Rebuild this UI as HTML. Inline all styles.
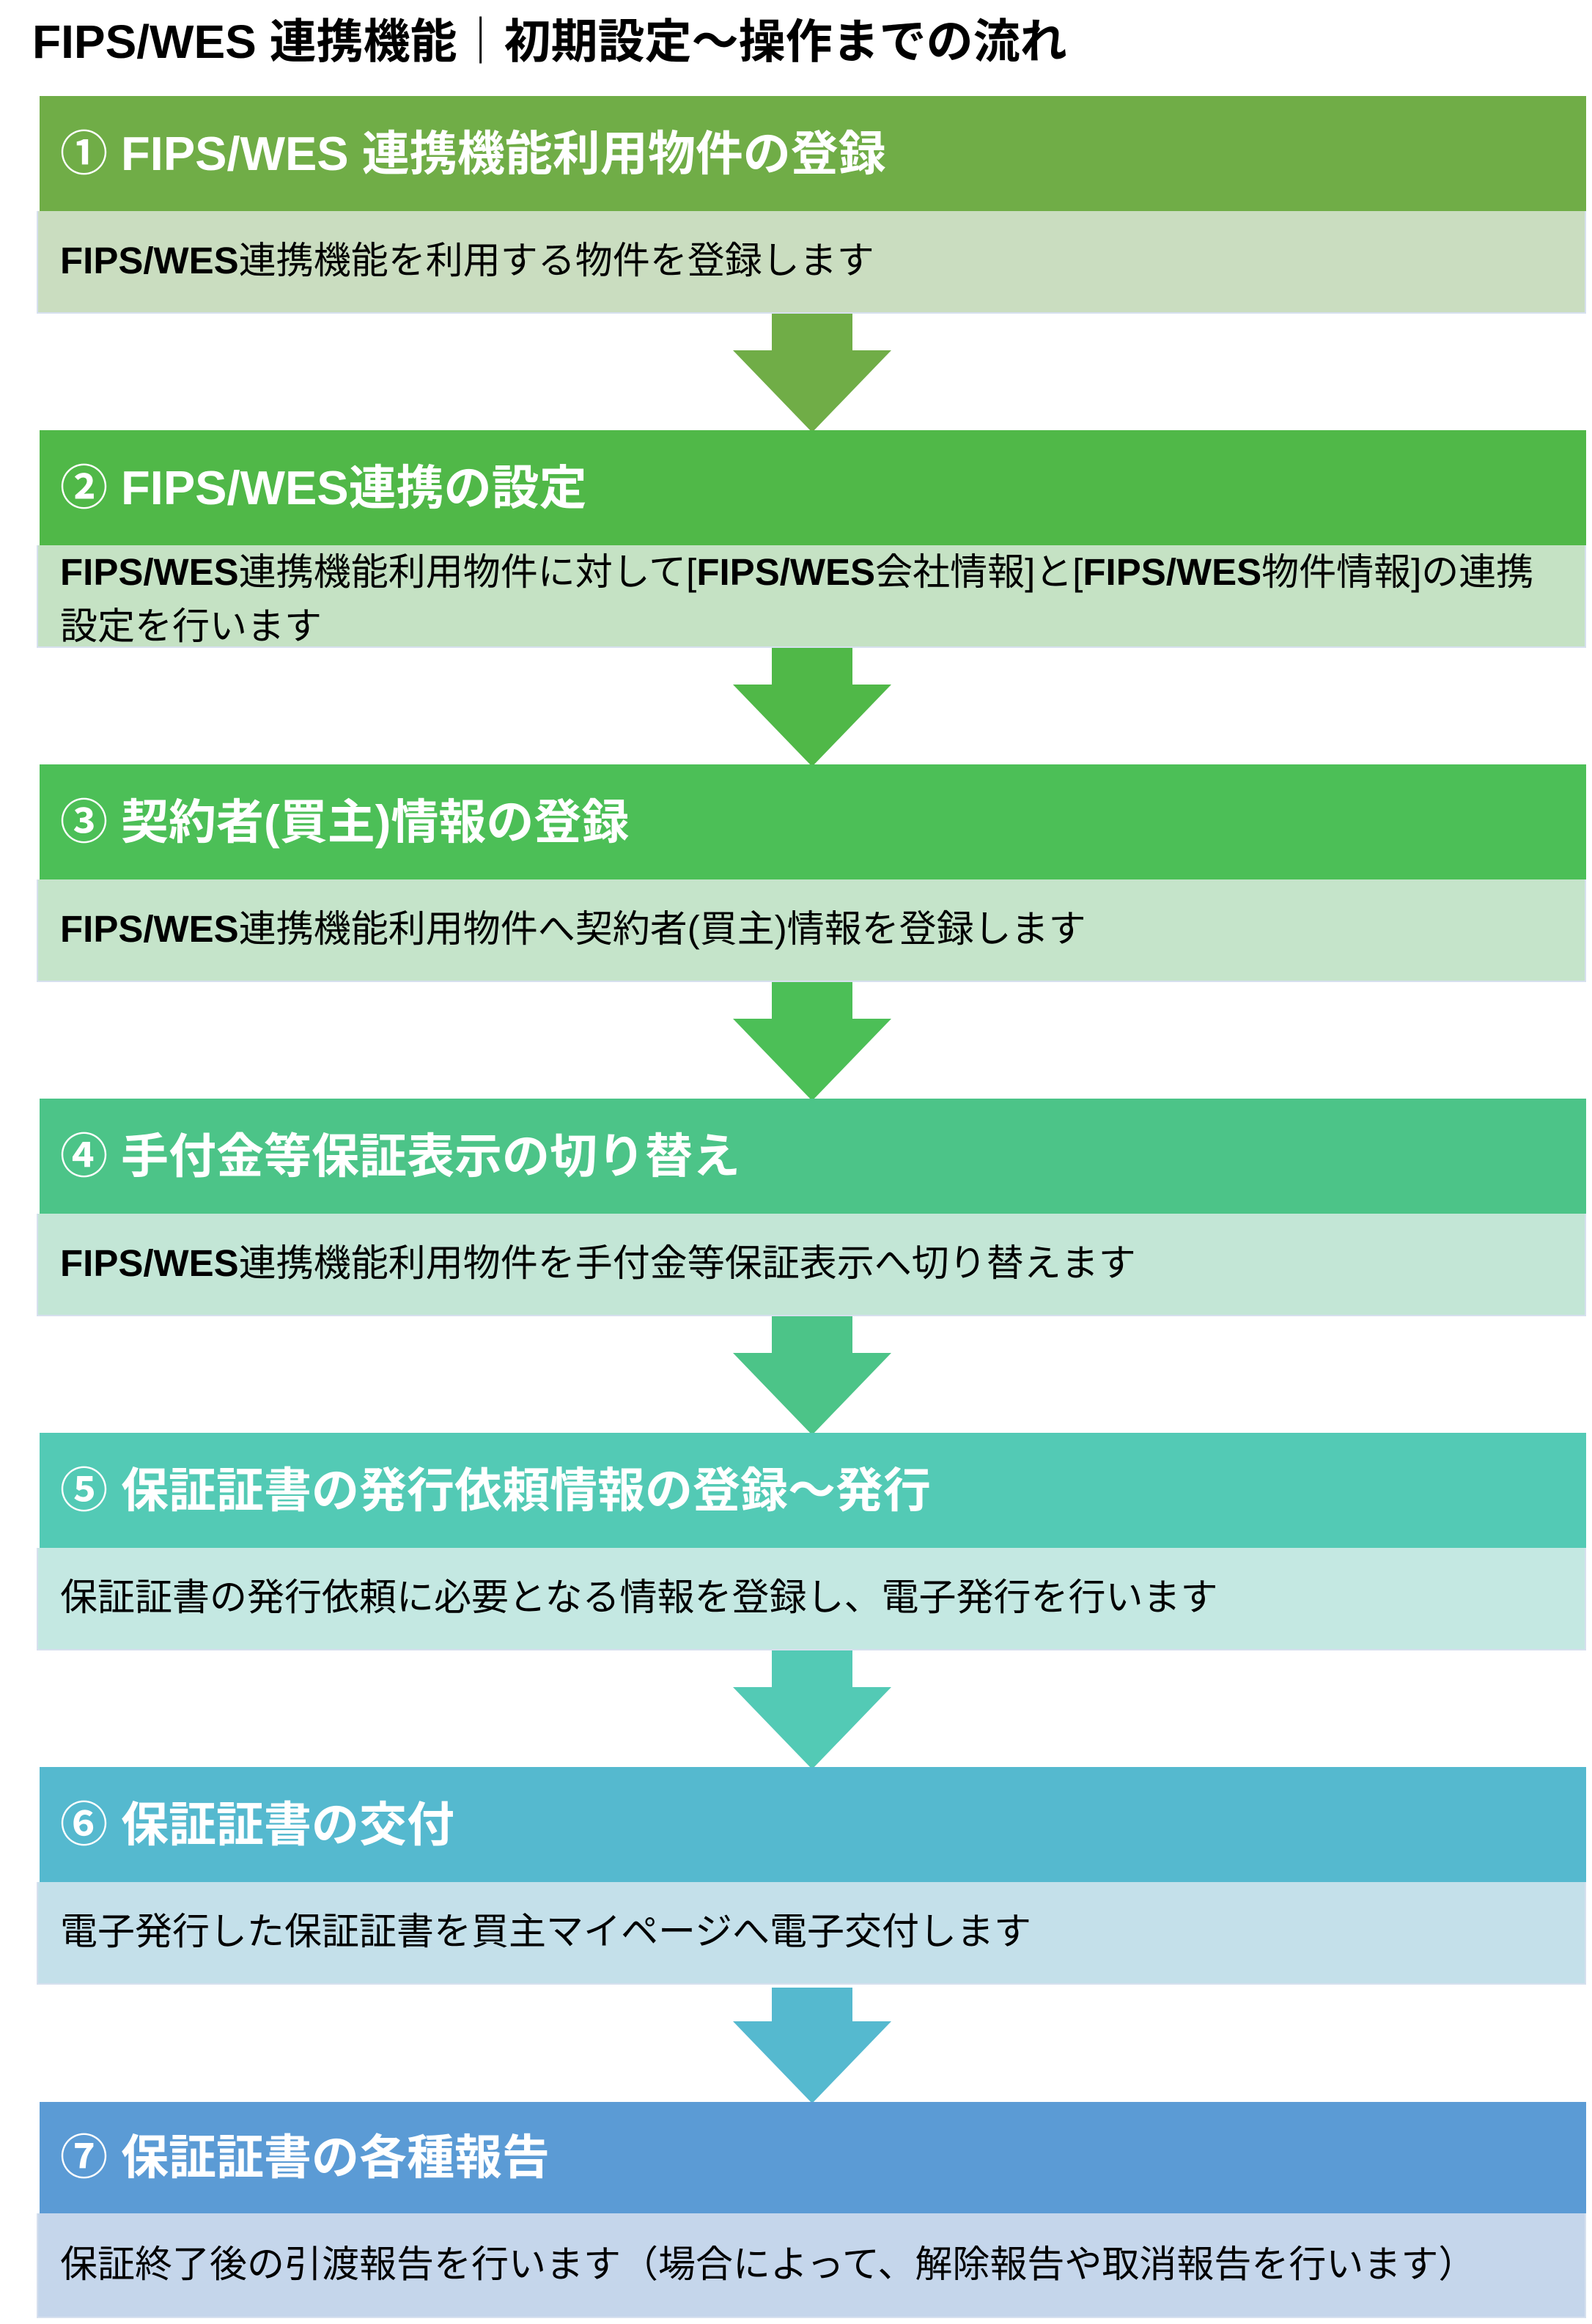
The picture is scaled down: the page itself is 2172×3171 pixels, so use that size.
<!DOCTYPE html>
<html><head><meta charset="utf-8"><style>
*{margin:0;padding:0;box-sizing:border-box}
body{width:2172px;height:3171px;background:#fff;position:relative;overflow:hidden;font-family:"Liberation Sans","Noto Sans CJK JP",sans-serif}
.t{position:absolute;left:44px;top:12px;font-size:64px;font-weight:bold;color:#000;white-space:nowrap;line-height:90px}
.h{position:absolute;left:54px;width:2110px;height:157px;color:#fff;font-weight:bold;font-size:65px;line-height:157px;padding-left:28px;white-space:nowrap}
.d{position:absolute;left:50px;width:2114px;height:140px;font-size:51px;color:#000;padding-left:30px;white-space:nowrap;border:2px solid #d6e0ee;border-top:none}
.d1{line-height:136px}
.d2{line-height:74px;padding-top:0}
svg{position:absolute;left:0;top:0}
</style></head><body>
<div class="t">FIPS/WES 連携機能｜初期設定～操作までの流れ</div>
<svg width="2172" height="3171">
<polygon points="1053,427 1163,427 1163,478 1216,478 1108,590 1000,478 1053,478" fill="#70AD47"/>
<polygon points="1053,883 1163,883 1163,934 1216,934 1108,1046 1000,934 1053,934" fill="#50B848"/>
<polygon points="1053,1339 1163,1339 1163,1390 1216,1390 1108,1502 1000,1390 1053,1390" fill="#4CBF57"/>
<polygon points="1053,1795 1163,1795 1163,1846 1216,1846 1108,1958 1000,1846 1053,1846" fill="#4CC488"/>
<polygon points="1053,2251 1163,2251 1163,2302 1216,2302 1108,2414 1000,2302 1053,2302" fill="#53CAB5"/>
<polygon points="1053,2712 1163,2712 1163,2758 1216,2758 1108,2870 1000,2758 1053,2758" fill="#55B9CF"/>
</svg>
<div class="h" style="top:131px;background:#70AD47">① FIPS/WES 連携機能利用物件の登録</div>
<div class="d d1" style="top:288px;background:#CADDC0"><b>FIPS/WES</b>連携機能を利用する物件を登録します</div>
<div class="h" style="top:587px;background:#50B848">② FIPS/WES連携の設定</div>
<div class="d d2" style="top:744px;background:#C5E2C4"><b>FIPS/WES</b>連携機能利用物件に対して[<b>FIPS/WES</b>会社情報]と[<b>FIPS/WES</b>物件情報]の連携<br>設定を行います</div>
<div class="h" style="top:1043px;background:#4CBF57">③ 契約者(買主)情報の登録</div>
<div class="d d1" style="top:1200px;background:#C5E4CA"><b>FIPS/WES</b>連携機能利用物件へ契約者(買主)情報を登録します</div>
<div class="h" style="top:1499px;background:#4CC488">④ 手付金等保証表示の切り替え</div>
<div class="d d1" style="top:1656px;background:#C3E6D6"><b>FIPS/WES</b>連携機能利用物件を手付金等保証表示へ切り替えます</div>
<div class="h" style="top:1955px;background:#53CAB5">⑤ 保証証書の発行依頼情報の登録～発行</div>
<div class="d d1" style="top:2112px;background:#C4E8E2">保証証書の発行依頼に必要となる情報を登録し、電子発行を行います</div>
<div class="h" style="top:2411px;background:#55B9CF">⑥ 保証証書の交付</div>
<div class="d d1" style="top:2568px;background:#C4E0EA">電子発行した保証証書を買主マイページへ電子交付します</div>
<div class="h" style="top:2868px;height:152px;line-height:152px;background:#5B9BD5">⑦ 保証証書の各種報告</div>
<div class="d d1" style="top:3020px;height:143px;line-height:140px;background:#C5D6EB">保証終了後の引渡報告を行います（場合によって、解除報告や取消報告を行います）</div>
</body></html>
